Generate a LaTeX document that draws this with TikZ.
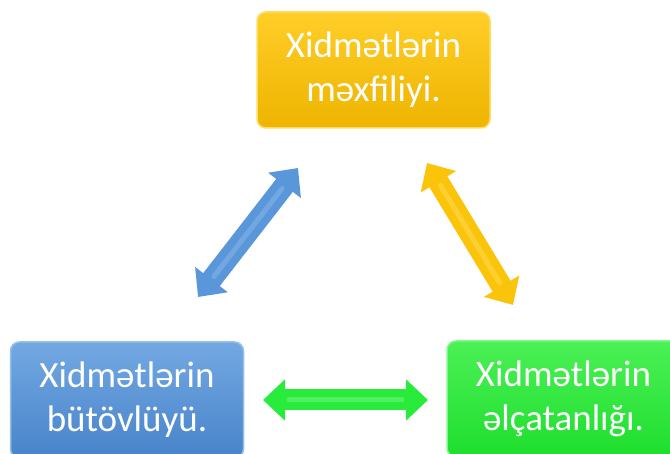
\documentclass[tikz,border=0pt]{standalone}
\usepackage{fontspec}
\setmainfont{Carlito}
\usetikzlibrary{arrows.meta}
\definecolor{yelA}{RGB}{255,206,40}
\definecolor{yelB}{RGB}{238,180,0}
\definecolor{yelE}{RGB}{255,220,100}
\definecolor{bluA}{RGB}{115,168,226}
\definecolor{bluB}{RGB}{72,132,202}
\definecolor{bluE}{RGB}{150,192,236}
\definecolor{grnA}{RGB}{75,240,85}
\definecolor{grnB}{RGB}{30,222,45}
\definecolor{grnE}{RGB}{130,248,140}
\definecolor{yelArr}{RGB}{250,196,10}
\definecolor{yelHi}{RGB}{255,228,110}
\definecolor{bluArr}{RGB}{90,150,218}
\definecolor{bluHi}{RGB}{150,194,238}
\definecolor{grnArr}{RGB}{40,235,60}
\definecolor{grnHi}{RGB}{140,252,150}
\tikzset{
  infobox/.style n args={3}{rounded corners=9pt, minimum width=233pt, minimum height=116pt,
    align=center, text=white, font=\fontsize{37}{44}\selectfont,
    draw=#3, line width=1.5pt, top color=#1, bottom color=#2},
  dblarrow/.style={line width=21pt, draw=#1,
    {Triangle[length=22pt,width=40pt]}-{Triangle[length=22pt,width=40pt]}},
  arrowhi/.style={line width=5pt, draw=#1, opacity=0.4, line cap=round,
    shorten <=26pt, shorten >=26pt}
}
\begin{document}
\begin{tikzpicture}[x=1pt,y=-1pt]
\useasboundingbox (0,0) rectangle (670,454);
\clip (0,0) rectangle (670,454);
\node[infobox={yelA}{yelB}{yelE}] (conf) at (373.5,70) {Xidmətlərin\\məxfiliyi.};
\node[infobox={bluA}{bluB}{bluE}] (integ) at (127,400) {Xidmətlərin\\bütövlüyü.};
\node[infobox={grnA}{grnB}{grnE}] (avail) at (563.5,399) {Xidmətlərin\\əlçatanlığı.};
\coordinate (b1) at (198,297);
\coordinate (b2) at (298,168);
\coordinate (y1) at (427,163);
\coordinate (y2) at (513,305);
\coordinate (g1) at (263,400);
\coordinate (g2) at (428,400);
\draw[dblarrow=bluArr] (b1) -- (b2);
\draw[arrowhi=bluHi] (b1) -- (b2);
\draw[dblarrow=yelArr] (y1) -- (y2);
\draw[arrowhi=yelHi] (y1) -- (y2);
\draw[dblarrow=grnArr] (g1) -- (g2);
\draw[arrowhi=grnHi] (g1) -- (g2);
\end{tikzpicture}
\end{document}
